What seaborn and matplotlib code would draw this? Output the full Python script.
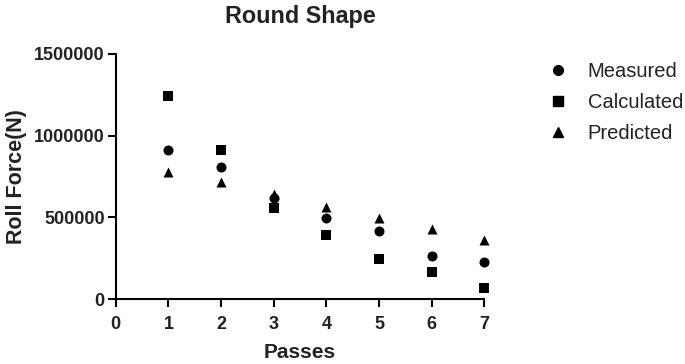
import pandas as pd
import seaborn as sns
import matplotlib.pyplot as plt
from matplotlib.lines import Line2D

# Data
passes = [1, 2, 3, 4, 5, 6, 7]
measured = [915000, 806000, 618000, 497000, 418000, 267000, 230000]
calculated = [1242000, 915000, 558000, 394000, 248000, 164000, 67000]
predicted = [776000, 715000, 642000, 564000, 497000, 430000, 364000]
series_names = ['Measured', 'Calculated', 'Predicted']
y_ticks = [0, 500000, 1000000, 1500000]
x_ticks = [0, 1, 2, 3, 4, 5, 6, 7]

df = pd.DataFrame({
    'Passes': passes * 3,
    'Roll Force(N)': measured + calculated + predicted,
    'Series': [s for s in series_names for _ in passes],
})

sns.set_theme(style='white')
plt.rcParams['font.family'] = ['Liberation Sans', 'DejaVu Sans']

fig = plt.figure(figsize=(6.85, 3.64), dpi=100)
ax = fig.add_axes([0.169, 0.178, 0.538, 0.674])

marker_map = {'Measured': 'o', 'Calculated': 's', 'Predicted': '^'}
size_map = {'Measured': 52, 'Calculated': 54, 'Predicted': 52}
for name in series_names:
    sub = df[df['Series'] == name]
    sns.scatterplot(data=sub, x='Passes', y='Roll Force(N)', marker=marker_map[name],
                    s=size_map[name], color='black', edgecolor='black', linewidth=0,
                    ax=ax, clip_on=False, legend=False, zorder=3)

ax.set_xlim(0, 7)
ax.set_ylim(0, 1500000)
ax.set_xticks(x_ticks)
ax.set_yticks(y_ticks)
ax.set_xticklabels([str(t) for t in x_ticks], fontsize=13, fontweight='bold')
ax.set_yticklabels([str(t) for t in y_ticks], fontsize=13, fontweight='bold')
ax.tick_params(axis='both', direction='out', length=6, width=1.5, color='black',
               bottom=True, left=True, labelcolor='#222222')
ax.tick_params(axis='x', pad=6)
ax.tick_params(axis='y', pad=2)

for side in ['top', 'right']:
    ax.spines[side].set_visible(False)
for side in ['left', 'bottom']:
    ax.spines[side].set_linewidth(1.5)
    ax.spines[side].set_color('black')

ax.set_xlabel('Passes', fontsize=15, fontweight='bold', labelpad=7, color='#222222')
ax.set_ylabel('Roll Force(N)', fontsize=15.5, fontweight='bold', labelpad=5, color='#222222')
ax.set_title('Round Shape', fontsize=16.8, fontweight='bold', pad=22, color='#222222')

handles = [Line2D([], [], marker=marker_map[n], color='black', linestyle='none', markersize=7)
           for n in series_names]
leg = ax.legend(handles, series_names, loc='upper left', bbox_to_anchor=(1.095, 1.04),
                frameon=False, fontsize=14.5, handletextpad=0.5, labelspacing=0.6)
for t in leg.get_texts():
    t.set_color('#222222')

fig.savefig('out.png', dpi=100)
